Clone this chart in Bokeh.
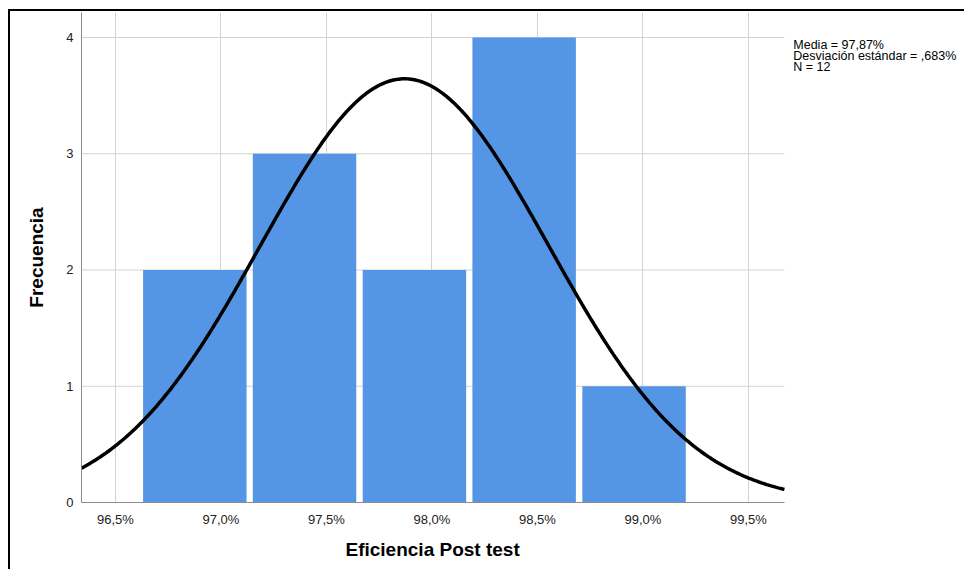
import numpy as np
from bokeh.plotting import figure
from bokeh.models import FixedTicker, Range1d, Title
from bokeh.core.properties import value
from bokeh.embed import file_html
from bokeh.resources import INLINE

# ---- data ----
bin_edges = [96.631, 97.151, 97.672, 98.192, 98.713, 99.233]
counts = [2, 3, 2, 4, 1]
mean_val = 97.87
sd_val = 0.683
n_val = 12
x_tick_values = [96.5, 97.0, 97.5, 98.0, 98.5, 99.0, 99.5]
x_tick_labels = ["96,5%", "97,0%", "97,5%", "98,0%", "98,5%", "99,0%", "99,5%"]
y_tick_values = [0, 1, 2, 3, 4]
stats_lines = ["Media = 97,87%", "Desviación estándar = ,683%", "N = 12"]
x_title = "Eficiencia Post test"
y_title = "Frecuencia"

FONT = "Liberation Sans"

x_lo, x_hi = 96.339, 99.671      # plotted axis extent
x_far = 100.534                  # frame extends further right to hold the stats text
y_lo, y_hi = 0, 4.215

p = figure(width=956, height=560, output_backend="svg", toolbar_location=None,
           x_range=Range1d(x_lo, x_far), y_range=Range1d(y_lo, y_hi),
           min_border_left=71, min_border_right=0, min_border_top=1, min_border_bottom=69)
p.styles = {"margin-left": "8px", "margin-top": "9px",
            "border-left": "2px solid black", "border-top": "2px solid black"}
p.outline_line_color = None
p.background_fill_color = "white"
p.border_fill_color = "white"

# grid: vertical via xgrid, horizontal drawn only across the axis extent
p.xgrid.ticker = FixedTicker(ticks=x_tick_values)
p.xgrid.grid_line_color = "#d2d2d2"
p.ygrid.grid_line_color = None
p.segment(x0=[x_lo] * len(y_tick_values), x1=[x_hi] * len(y_tick_values),
          y0=y_tick_values, y1=y_tick_values, line_color="#d2d2d2", line_width=1)

# bars
edges = np.array(bin_edges)
bw = edges[1] - edges[0]
lefts = edges[:-1]
rights = edges[:-1] + bw * 0.943
p.quad(left=lefts, right=rights, bottom=0, top=counts,
       fill_color="#5595e5", line_color=None)

# normal curve scaled to histogram
xs = np.linspace(x_lo, x_hi, 400)
ys = n_val * bw * np.exp(-0.5 * ((xs - mean_val) / sd_val) ** 2) / (sd_val * np.sqrt(2 * np.pi))
p.line(xs, ys, line_color="black", line_width=3.5)

# axes
p.xaxis.ticker = FixedTicker(ticks=x_tick_values)
p.xaxis.major_label_overrides = {v: l for v, l in zip(x_tick_values, x_tick_labels)}
p.xaxis.bounds = (x_lo, x_hi)
p.yaxis.ticker = FixedTicker(ticks=y_tick_values)
for ax in (p.xaxis, p.yaxis):
    ax.major_tick_out = 0
    ax.major_tick_in = 0
    ax.minor_tick_out = 0
    ax.minor_tick_in = 0
    ax.axis_line_color = "#8c8c8c"
    ax.axis_line_width = 1
    ax.major_label_text_font = FONT
    ax.major_label_text_font_size = "13px"
    ax.major_label_text_color = "#222222"
    ax.axis_label_text_font = FONT
    ax.axis_label_text_font_size = "19px"
    ax.axis_label_text_font_style = "bold"
    ax.axis_label_text_color = "black"

p.yaxis.axis_label = y_title
p.xaxis.major_label_standoff = 9
p.yaxis.major_label_standoff = 8
p.yaxis.axis_label_standoff = 16

# x title as a below-title, left aligned and offset so it is centred under the axis extent
p.add_layout(Title(text=x_title, align="left", offset=264, standoff=14,
                   text_font=FONT, text_font_size="19px", text_font_style="bold",
                   text_color="black"), "below")

# statistics box
p.text(x=[99.713] * len(stats_lines), y=[3.995 - i * 0.0946 for i in range(len(stats_lines))],
       text=stats_lines, text_font=value(FONT), text_font_size="12.5px",
       text_baseline="top", text_color="black")

open("out.html", "w").write(file_html(p, INLINE))
